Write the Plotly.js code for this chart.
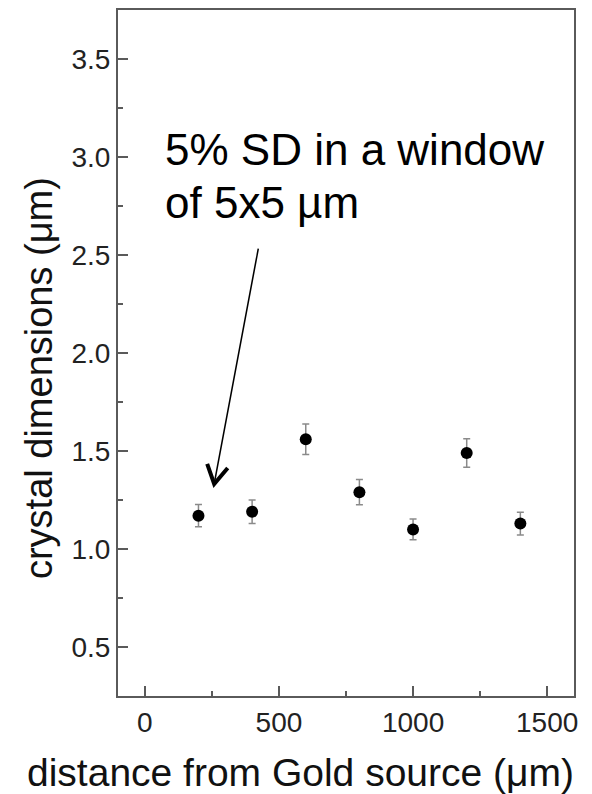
<!DOCTYPE html>
<html>
<head>
<meta charset="utf-8">
<script src="https://cdn.plot.ly/plotly-3.0.1.min.js"></script>
<style>
  html, body { margin: 0; padding: 0; background: #fff; }
  #chart { width: 592px; height: 794px; }
</style>
</head>
<body>
<div id="chart"></div>
<script>
// Distance from the gold source (µm)
const distance = [200, 400, 600, 800, 1000, 1200, 1400];
// Mean crystal dimension (µm)
const crystalSize = [1.17, 1.19, 1.56, 1.29, 1.10, 1.49, 1.13];
// Standard deviation of the crystal dimension (µm)
const crystalSD = [0.057, 0.060, 0.078, 0.064, 0.053, 0.073, 0.058];

const xTicks = [0, 500, 1000, 1500];
const yTicks = [0.5, 1.0, 1.5, 2.0, 2.5, 3.0, 3.5];
const yTickText = ['0.5', '1.0', '1.5', '2.0', '2.5', '3.0', '3.5'];

const xTitle = 'distance from Gold source (μm)';
const yTitle = 'crystal dimensions (μm)';
const noteLines = ['5% SD in a window', 'of 5x5 µm'];

const FONT = 'Arial, "Liberation Sans", Helvetica, sans-serif';
const AXIS_GREY = '#5a5a5a';

const trace = {
  x: distance,
  y: crystalSize,
  type: 'scatter',
  mode: 'markers',
  marker: { color: '#000', size: 12 },
  error_y: {
    type: 'data',
    array: crystalSD,
    visible: true,
    color: '#8a8a8a',
    thickness: 1.5,
    width: 3.5
  },
  hoverinfo: 'skip'
};

const axisCommon = {
  showgrid: false,
  zeroline: false,
  showline: true,
  mirror: true,
  linecolor: AXIS_GREY,
  linewidth: 2,
  ticks: 'inside',
  ticklen: 10,
  tickwidth: 1.5,
  tickcolor: AXIS_GREY,
  tickfont: { family: FONT, size: 28, color: '#222' }
};

const layout = {
  width: 592,
  height: 794,
  margin: { l: 118, r: 18, t: 10, b: 98 },
  paper_bgcolor: '#fff',
  plot_bgcolor: '#fff',
  showlegend: false,
  xaxis: Object.assign({}, axisCommon, {
    range: [-100, 1600],
    tickmode: 'array',
    tickvals: xTicks,
    ticktext: xTicks.map(String),
    minor: { dtick: 250, tick0: 0, ticks: 'inside', ticklen: 5, tickwidth: 1.5, tickcolor: AXIS_GREY }
  }),
  yaxis: Object.assign({}, axisCommon, {
    range: [0.25, 3.75],
    tickmode: 'array',
    tickvals: yTicks,
    ticktext: yTickText,
    minor: { dtick: 0.25, tick0: 0, ticks: 'inside', ticklen: 5, tickwidth: 1.5, tickcolor: AXIS_GREY }
  }),
  annotations: [
    // x-axis title, centred on the page rather than the plot area
    {
      xref: 'paper', yref: 'paper',
      x: 0.40, y: -0.111,
      xanchor: 'center', yanchor: 'middle',
      text: xTitle,
      showarrow: false,
      font: { family: FONT, size: 39, color: '#111' }
    },
    // y-axis title, rotated
    {
      xref: 'paper', yref: 'paper',
      x: -0.173, y: 0.4636,
      xanchor: 'center', yanchor: 'middle',
      textangle: -90,
      text: yTitle,
      showarrow: false,
      font: { family: FONT, size: 38, color: '#111' }
    },
    {
      xref: 'paper', yref: 'paper',
      x: 0.098, y: 0.797,
      xanchor: 'left', yanchor: 'middle',
      text: noteLines[0],
      showarrow: false,
      font: { family: FONT, size: 44, color: '#000' }
    },
    {
      xref: 'paper', yref: 'paper',
      x: 0.098, y: 0.719,
      xanchor: 'left', yanchor: 'middle',
      text: noteLines[1],
      showarrow: false,
      font: { family: FONT, size: 44, color: '#000' }
    }
  ],
  shapes: [
    // pointer shaft from the note down toward the first data point
    {
      type: 'line', xref: 'x', yref: 'y',
      x0: 423, y0: 2.532, x1: 258.6, y1: 1.332,
      line: { color: '#000', width: 1.5 }
    },
    // open chevron head of the pointer
    {
      type: 'path', xref: 'x', yref: 'y',
      path: 'M 232.5 1.434 L 258.6 1.332 L 309 1.413',
      line: { color: '#000', width: 4 }
    }
  ]
};

Plotly.newPlot('chart', [trace], layout, { displayModeBar: false, staticPlot: true });
</script>
</body>
</html>
